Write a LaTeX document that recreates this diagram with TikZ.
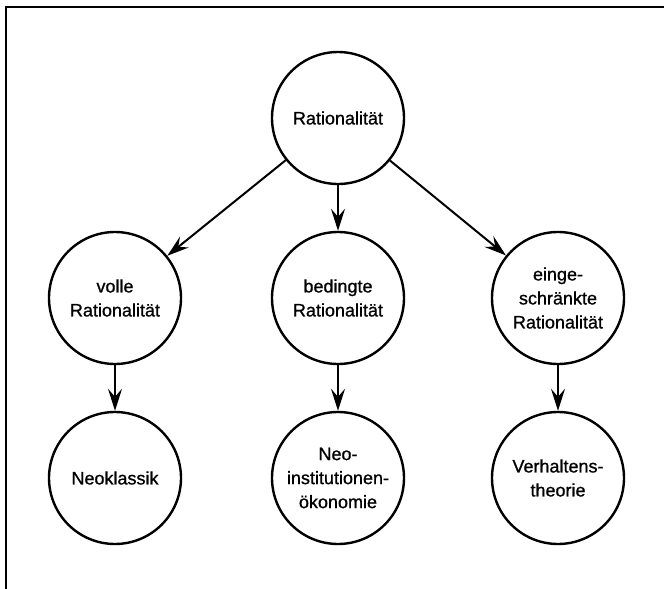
\documentclass[tikz,border=0pt]{standalone}
\usepackage{fontspec}
\setmainfont{Liberation Sans}
\newfontfamily\labelfont{Liberation Sans}[FakeBold=0.9]
\usetikzlibrary{arrows.meta}
\begin{document}
\begin{tikzpicture}[x=1pt,y=-1pt,
  concept/.style={circle,draw,line width=2.4pt,minimum size=132pt,inner sep=0pt,
    align=center,font=\labelfont\fontsize{18}{24}\selectfont},
  link/.style={line width=2pt,-{Stealth[length=22pt,width=14pt,inset=8pt]}}]
  \useasboundingbox (0,0) rectangle (664,589);
  % frame
  \draw[line width=2pt] (6,589) -- (6,7) -- (664,7);
  % concepts
  \node[concept] (rat) at (338,118) {Rationalität};
  \node[concept] (voll) at (115,298) {volle\\Rationalität};
  \node[concept] (bed) at (338,298) {bedingte\\Rationalität};
  \node[concept] (eing) at (558,298) {einge-\\schränkte\\Rationalität};
  \node[concept] (neo) at (115,478) {Neoklassik};
  \node[concept] (nie) at (338,478) {Neo-\\institutionen-\\ökonomie};
  \node[concept] (verh) at (558,478) {Verhaltens-\\theorie};
  % connectors
  \draw[link] (rat) -- (voll);
  \draw[link] (rat) -- (bed);
  \draw[link] (rat) -- (eing);
  \draw[link] (voll) -- (neo);
  \draw[link] (bed) -- (nie);
  \draw[link] (eing) -- (verh);
\end{tikzpicture}
\end{document}
